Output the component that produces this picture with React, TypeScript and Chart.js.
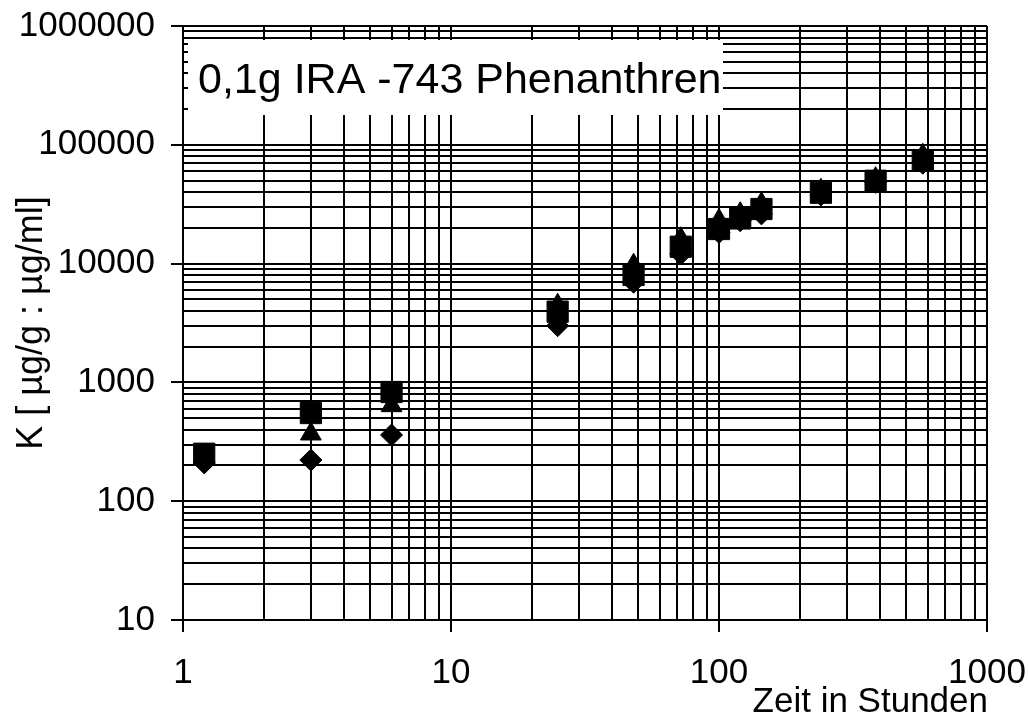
import React, { useEffect, useRef } from 'react';
import { Chart, registerables } from 'chart.js';

Chart.register(...registerables);

// ---- data ----
const hours = [1.2, 3, 6, 25, 48, 72, 100, 120, 144, 240, 384, 576];
const seriesSquare = [251, 552, 830, 3940, 8020, 13870, 19550, 24000, 28800, 39500, 49800, 74000];
const seriesTriangle = [240, 368, 637, 4460, 9690, 16200, 23100, 26300, 31900, 41400, 51900, 81600];
const seriesDiamond = [210, 222, 361, 3000, 6970, 12050, 18300, 22960, 26200, 37800, 48300, 70000];

const xGridValues = [
  1, 2, 3, 4, 5, 6, 7, 8, 9,
  10, 20, 30, 40, 50, 60, 70, 80, 90,
  100, 200, 300, 400, 500, 600, 700, 800, 900,
  1000,
];
const xTickLabels = [1, 10, 100, 1000];
const yGridValues = [
  10, 20, 30, 40, 50, 60, 70, 80, 90,
  100, 200, 300, 400, 500, 600, 700, 800, 900,
  1000, 2000, 3000, 4000, 5000, 6000, 7000, 8000, 9000,
  10000, 20000, 30000, 40000, 50000, 60000, 70000, 80000, 90000,
  100000, 200000, 300000, 400000, 500000, 600000, 700000, 800000, 900000,
  1000000,
];
const yTickLabels = [10, 100, 1000, 10000, 100000, 1000000];

const chartTitle = '0,1g IRA -743 Phenanthren';
const xTitle = 'Zeit in Stunden';
const yTitle = 'K [ µg/g : µg/ml]';

const FONT = '"Liberation Sans", Arial, Helvetica, sans-serif';

const toPoints = (ys: number[]) => hours.map((h, i) => ({ x: h, y: ys[i] }));

const textPlugin = {
  id: 'textPlugin',
  beforeDatasetsDraw(chart: any) {
    const { ctx, chartArea } = chart;
    ctx.save();
    ctx.fillStyle = '#ffffff';
    ctx.fillRect(chartArea.left + 5, 40, 535, 75);
    ctx.fillStyle = '#000000';
    ctx.font = `43px ${FONT}`;
    ctx.textAlign = 'left';
    ctx.textBaseline = 'alphabetic';
    ctx.fillText(chartTitle, chartArea.left + 15, 93);
    ctx.restore();
  },
  afterDraw(chart: any) {
    const { ctx, chartArea } = chart;
    ctx.save();
    ctx.fillStyle = '#000000';
    ctx.font = `35px ${FONT}`;
    ctx.textAlign = 'right';
    ctx.textBaseline = 'alphabetic';
    ctx.fillText(xTitle, chartArea.right + 1, 712);
    ctx.translate(42, (chartArea.top + chartArea.bottom) / 2);
    ctx.rotate(-Math.PI / 2);
    ctx.font = `36px ${FONT}`;
    ctx.textAlign = 'center';
    ctx.fillText(yTitle, 0, 0);
    ctx.restore();
  },
};

export default function App() {
  const canvasRef = useRef<HTMLCanvasElement | null>(null);

  useEffect(() => {
    document.body.style.margin = '0';
    const canvas = canvasRef.current;
    if (!canvas) return;
    const isMajorX = (v: number) => xTickLabels.includes(v);
    const isMajorY = (v: number) => yTickLabels.includes(v);
    const chart = new Chart(canvas, {
      type: 'scatter',
      data: {
        datasets: [
          {
            label: 'Quadrat',
            data: toPoints(seriesSquare),
            pointStyle: 'rect',
            pointRadius: 15,
            pointHoverRadius: 15,
            backgroundColor: '#000',
            borderColor: '#000',
            borderWidth: 1,
            showLine: false,
          },
          {
            label: 'Dreieck',
            data: toPoints(seriesTriangle),
            pointStyle: 'triangle',
            pointRadius: 12,
            pointHoverRadius: 12,
            backgroundColor: '#000',
            borderColor: '#000',
            borderWidth: 1,
            showLine: false,
          },
          {
            label: 'Raute',
            data: toPoints(seriesDiamond),
            pointStyle: 'rectRot',
            pointRadius: 11,
            pointHoverRadius: 11,
            backgroundColor: '#000',
            borderColor: '#000',
            borderWidth: 1,
            showLine: false,
          },
        ],
      },
      options: {
        responsive: false,
        animation: false,
        devicePixelRatio: 1,
        layout: { padding: { left: 0, top: 26, right: 42, bottom: 0 } },
        plugins: {
          legend: { display: false },
          tooltip: { enabled: false },
          title: { display: false },
        },
        scales: {
          x: {
            type: 'logarithmic',
            min: 1,
            max: 1000,
            afterBuildTicks: (s: any) => {
              s.ticks = xGridValues.map((v) => ({ value: v }));
            },
            afterFit: (s: any) => {
              s.height = 98;
              s.paddingLeft = 0;
              s.paddingRight = 0;
            },
            ticks: {
              autoSkip: false,
              maxRotation: 0,
              minRotation: 0,
              padding: 20,
              color: '#000',
              font: { family: FONT, size: 35 },
              callback: (v: any) => (isMajorX(Number(v)) ? String(v) : ''),
            },
            grid: {
              color: '#000',
              lineWidth: 2,
              tickLength: 12,
              tickWidth: 2,
              tickColor: (c: any) => (c.tick && isMajorX(c.tick.value) ? '#000' : 'rgba(0,0,0,0)'),
            },
            border: { color: '#000', width: 2 },
          },
          y: {
            type: 'logarithmic',
            min: 10,
            max: 1000000,
            afterBuildTicks: (s: any) => {
              s.ticks = yGridValues.map((v) => ({ value: v }));
            },
            afterFit: (s: any) => {
              s.width = 183;
              s.paddingTop = 0;
              s.paddingBottom = 0;
            },
            ticks: {
              autoSkip: false,
              padding: 16,
              color: '#000',
              font: { family: FONT, size: 35 },
              callback: (v: any) => (isMajorY(Number(v)) ? String(v) : ''),
            },
            grid: {
              color: '#000',
              lineWidth: 2,
              tickLength: 12,
              tickWidth: 2,
              tickColor: (c: any) => (c.tick && isMajorY(c.tick.value) ? '#000' : 'rgba(0,0,0,0)'),
            },
            border: { color: '#000', width: 2 },
          },
        },
      },
      plugins: [textPlugin],
    });
    return () => chart.destroy();
  }, []);

  return (
    <div style={{ position: 'absolute', left: 0, top: 0, width: 1029, height: 718, background: '#fff' }}>
      <canvas ref={canvasRef} width={1029} height={718} />
    </div>
  );
}
